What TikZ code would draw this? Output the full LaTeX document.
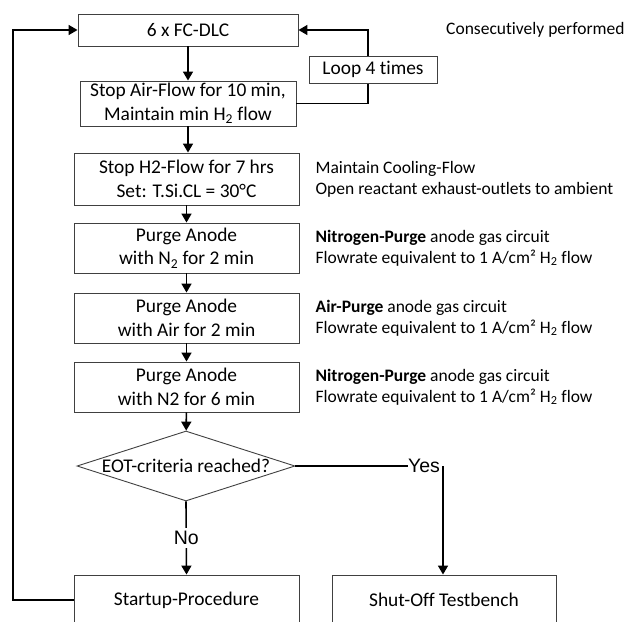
\documentclass[tikz,border=0pt]{standalone}
\usepackage{fontspec}
\setmainfont[Ligatures=NoCommon]{Carlito}
\newfontfamily\arialf{Liberation Sans}
\usetikzlibrary{shapes.geometric,arrows.meta}
\begin{document}
\begin{tikzpicture}[x=1pt,y=-1pt,
  box/.style={draw=black!75, line width=0.9pt, fill=white, align=center, inner sep=0pt, font=\fontsize{19.4}{23.5}\selectfont},
  side/.style={anchor=west, align=left, inner sep=0pt, font=\fontsize{17.5}{21.2}\selectfont},
  conn/.style={line width=1.6pt, -{Triangle[width=10pt,length=9pt]}},
  plainline/.style={line width=1.6pt},
  lbl/.style={font=\arialf\fontsize{19.5}{22}\selectfont, inner sep=0pt}]
\useasboundingbox (0,0) rectangle (626,621);
\clip (0,0) rectangle (626,621);

\node[box, minimum width=220pt, minimum height=32pt] (b1) at (188,30) {6 x FC-DLC};
\node[box, minimum width=216pt, minimum height=45pt] (b2) at (188,103.5) {Stop Air-Flow for 10 min,\\Maintain min H\textsubscript{2} flow};
\node[box, minimum width=225pt, minimum height=52pt] (b3) at (186.5,179) {Stop H2-Flow for 7 hrs\\Set: T.Si.CL = 30°C};
\node[box, minimum width=225pt, minimum height=50pt] (b4) at (186.5,248) {Purge Anode\\with N\textsubscript{2} for 2 min};
\node[box, minimum width=225pt, minimum height=50pt] (b5) at (186.5,318) {Purge Anode\\with Air for 2 min};
\node[box, minimum width=225pt, minimum height=50pt] (b6) at (186.5,387) {Purge Anode\\with N2 for 6 min};
\node[diamond, draw=black!75, line width=0.9pt, fill=white, minimum width=218pt, minimum height=70pt, inner sep=0pt, aspect=3.1] (dec) at (186,466) {};
\node[inner sep=0pt, font=\fontsize{19.4}{23.5}\selectfont] (dect) at (dec) {EOT-criteria reached?};
\node[box, minimum width=225pt, minimum height=50pt] (start) at (186.5,600) {Startup-Procedure};
\node[box, minimum width=224pt, minimum height=50pt] (shut) at (444,600) {Shut-Off Testbench};

% side notes
\node[side] (t0) at (446,30) {Consecutively performed};
\node[side] (t3) at ([xshift=16pt]b3.east) {Maintain Cooling-Flow\\Open reactant exhaust-outlets to ambient};
\node[side] (t4) at ([xshift=16pt]b4.east) {\textbf{Nitrogen-Purge} anode gas circuit\\Flowrate equivalent to 1 A/cm² H\textsubscript{2} flow};
\node[side] (t5) at ([xshift=16pt]b5.east) {\textbf{Air-Purge} anode gas circuit\\Flowrate equivalent to 1 A/cm² H\textsubscript{2} flow};
\node[side] (t6) at ([xshift=16pt]b6.east) {\textbf{Nitrogen-Purge} anode gas circuit\\Flowrate equivalent to 1 A/cm² H\textsubscript{2} flow};

% main chain
\draw[conn] (b1) -- (b2);
\draw[conn] (b2) -- (b3.north -| b2.south);
\draw[conn] (b3) -- (b4);
\draw[conn] (b4) -- (b5);
\draw[conn] (b5) -- (b6);
\draw[conn] (b6) -- (dec);
\draw[conn] (dec.south) -- node[lbl, fill=white, inner sep=3pt] (no) {No} (start.north);

% loop 4 times
\coordinate (lp) at (368,103.5);
\draw[conn] (b2.east) -- (lp) |- (b1.east);
\node[box, minimum width=128pt, minimum height=27pt] (loop) at (373,69.5) {Loop 4 times};

% yes branch
\node[lbl] (yes) at (424,466) {Yes};
\draw[plainline] (dec.east) -- (yes.west);
\coordinate (yc) at (443,466);
\draw[conn] (yc) -- (yc |- shut.north);

% back loop
\coordinate (lc) at (13,600);
\draw[conn] (start.west) -- (lc) |- (b1.west);
\end{tikzpicture}
\end{document}
